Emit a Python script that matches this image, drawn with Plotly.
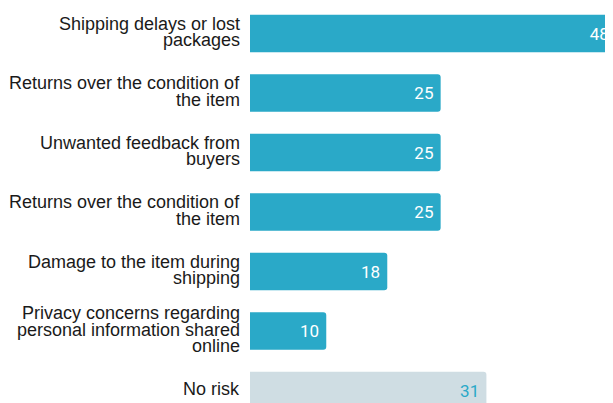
import plotly.graph_objects as go

categories = [
    "Shipping delays or lost<br>packages",
    "Returns over the condition of<br>the item",
    "Unwanted feedback from<br>buyers",
    "Returns over the condition of<br>the item",
    "Damage to the item during<br>shipping",
    "Privacy concerns regarding<br>personal information shared<br>online",
    "No risk",
]
values = [48, 25, 25, 25, 18, 10, 31]
bar_colors = ["#2aa9c8"] * 6 + ["#cfdde3"]
text_colors = ["#ffffff"] * 6 + ["#2aa9c8"]

positions = list(range(len(categories)))

fig = go.Figure()
fig.add_trace(go.Bar(
    x=values,
    y=positions,
    orientation="h",
    width=0.63,
    marker=dict(color=bar_colors, line=dict(width=0), cornerradius=3),
    text=[f"{v}\u00a0" for v in values],
    textposition="inside",
    insidetextanchor="end",
    textangle=0,
    constraintext="none",
    textfont=dict(family="Roboto", size=17, color=text_colors),
    hoverinfo="skip",
))

LINE = 16.8
annotations = []
for pos, label in zip(positions, categories):
    lines = label.split("<br>")
    n = len(lines)
    for k, line in enumerate(lines):
        shift = ((n - 1) / 2 - k) * LINE + 1.5
        annotations.append(dict(
            x=0, xref="paper", y=pos, yref="y",
            text=line, showarrow=False,
            xanchor="right", yanchor="middle",
            xshift=-8, yshift=shift,
            font=dict(family="Arial, Liberation Sans, sans-serif", size=18, color="#1a1a1a"),
        ))

fig.update_layout(
    width=605, height=395,
    margin=dict(l=242, r=0, t=0, b=0),
    paper_bgcolor="white", plot_bgcolor="white",
    showlegend=False,
    annotations=annotations,
    xaxis=dict(range=[0, 47.6], visible=False, fixedrange=True),
    yaxis=dict(range=[6.21, -0.4286], visible=False, fixedrange=True),
)

fig.write_html("out.html", config={"displayModeBar": False})
